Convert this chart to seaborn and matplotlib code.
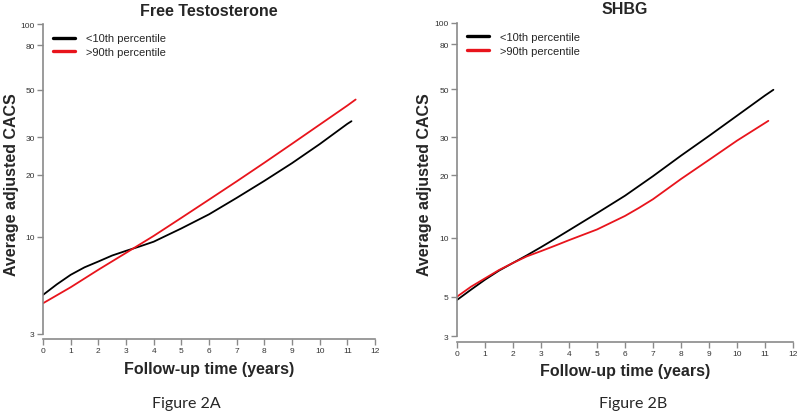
import numpy as np
import pandas as pd
import matplotlib
matplotlib.use("Agg")
import matplotlib.pyplot as plt
import seaborn as sns

# ---- data ----
ft_years_low = [0, 0.5, 1, 1.5, 2, 2.5, 3, 3.5, 4, 4.5, 5, 6, 7, 8, 9, 10, 11, 11.15]
ft_low = [5.0, 5.7, 6.4, 7.0, 7.5, 8.05, 8.5, 8.95, 9.45, 10.2, 11.0, 12.9, 15.5, 18.7, 22.7, 27.9, 34.7, 35.7]
ft_years_high = [0, 1, 2, 3, 4, 5, 6, 7, 8, 9, 10, 11, 11.3]
ft_high = [4.5, 5.5, 6.8, 8.3, 10.1, 12.4, 15.2, 18.6, 22.8, 28.0, 34.4, 42.2, 45.0]

shbg_years_low = [0, 0.5, 1, 1.5, 2, 2.5, 3, 3.5, 4, 5, 6, 7, 8, 9, 10, 11, 11.3]
shbg_low = [4.8, 5.45, 6.15, 6.85, 7.5, 8.2, 9.0, 9.9, 10.9, 13.2, 16.0, 19.8, 24.7, 30.5, 37.8, 46.8, 49.7]
shbg_years_high = [0, 0.5, 1, 1.5, 2, 2.5, 3, 3.5, 4, 5, 6, 6.5, 7, 7.5, 8, 9, 10, 11, 11.12]
shbg_high = [5.0, 5.65, 6.25, 6.9, 7.5, 8.1, 8.6, 9.15, 9.75, 11.0, 12.8, 14.0, 15.4, 17.2, 19.2, 23.6, 29.0, 35.0, 35.8]

series_labels = ["<10th percentile", ">90th percentile"]
titles = ["Free Testosterone", "SHBG"]
captions = ["Figure 2A", "Figure 2B"]
x_ticks = list(range(0, 13))
y_ticks_a = [3, 10, 20, 30, 50, 80, 100]
y_ticks_b = [3, 5, 10, 20, 30, 50, 80, 100]

sns.set_theme(style="white")
plt.rcParams["font.family"] = ["Liberation Sans", "DejaVu Sans"]

fig = plt.figure(figsize=(8.0, 4.14), dpi=100)
W, H = 800, 414

def fwd(y):
    return np.log10(np.asarray(y, dtype=float) + 1.0)

def inv(t):
    return 10.0 ** np.asarray(t, dtype=float) - 1.0

panels = [
    dict(px=(43, 375), py=(20, 340), ylim=(2.79, 105.5), yticks=y_ticks_a,
         low=(ft_years_low, ft_low), high=(ft_years_high, ft_high),
         title=titles[0], cap=captions[0], capx=186,
         ylab_x=-0.072, ylab_y=0.484, xlab_y=-0.068),
    dict(px=(457, 793), py=(18, 343), ylim=(2.76, 106.4), yticks=y_ticks_b,
         low=(shbg_years_low, shbg_low), high=(shbg_years_high, shbg_high),
         title=titles[1], cap=captions[1], capx=633,
         ylab_x=-0.074, ylab_y=0.486, xlab_y=-0.066),
]

spine_col = "#8a8a8a"
tick_txt = "#333333"

for p in panels:
    x0, x1 = p["px"]
    ytop, ybot = p["py"]
    ax = fig.add_axes([x0 / W, 1 - ybot / H, (x1 - x0) / W, (ybot - ytop) / H])
    ax.set_yscale("function", functions=(fwd, inv))
    df_low = pd.DataFrame({"year": p["low"][0], "cacs": p["low"][1]})
    df_high = pd.DataFrame({"year": p["high"][0], "cacs": p["high"][1]})
    sns.lineplot(data=df_low, x="year", y="cacs", color="black", lw=1.3,
                 ax=ax, label=series_labels[0])
    sns.lineplot(data=df_high, x="year", y="cacs", color="#e8141c", lw=1.3,
                 ax=ax, label=series_labels[1])
    ax.set_xlim(0, 12)
    ax.set_ylim(*p["ylim"])
    ax.set_xticks(x_ticks)
    ax.set_xticklabels([str(t) for t in x_ticks])
    ax.set_yticks(p["yticks"])
    ax.set_yticklabels([str(t) for t in p["yticks"]])
    ax.yaxis.set_minor_locator(matplotlib.ticker.NullLocator())
    ax.xaxis.set_minor_locator(matplotlib.ticker.NullLocator())
    for s in ["top", "right"]:
        ax.spines[s].set_visible(False)
    ax.spines["left"].set_bounds(3, 100)
    ax.spines["bottom"].set_bounds(0, 12)
    for s in ["left", "bottom"]:
        ax.spines[s].set_color(spine_col)
        ax.spines[s].set_linewidth(1.2)
    ax.tick_params(axis="both", which="major", direction="out", length=4,
                   width=1.0, color=spine_col, labelsize=6, labelcolor=tick_txt,
                   pad=2, left=True, bottom=True)
    ax.grid(False)
    ax.set_xlabel("Follow-up time (years)", fontsize=11.5, fontweight="bold")
    ax.xaxis.set_label_coords(0.5, p["xlab_y"])
    ax.set_ylabel("Average adjusted CACS", fontsize=11.5, fontweight="bold")
    ax.yaxis.set_label_coords(p["ylab_x"], p["ylab_y"])
    ax.set_title(p["title"], fontsize=11.5, fontweight="bold", pad=3)
    leg = ax.legend(loc="upper left", bbox_to_anchor=(0.03, 0.955),
                    frameon=False, fontsize=8, handlelength=2.0,
                    handletextpad=1.0, labelspacing=0.35, borderpad=0,
                    borderaxespad=0)
    for ln in leg.get_lines():
        ln.set_linewidth(2.4)
    fig.text(p["capx"] / W, 1 - 404 / H, p["cap"], ha="center", va="center",
             fontsize=11.5, family=["Lato", "DejaVu Sans"])

fig.savefig("out.png", dpi=100)
